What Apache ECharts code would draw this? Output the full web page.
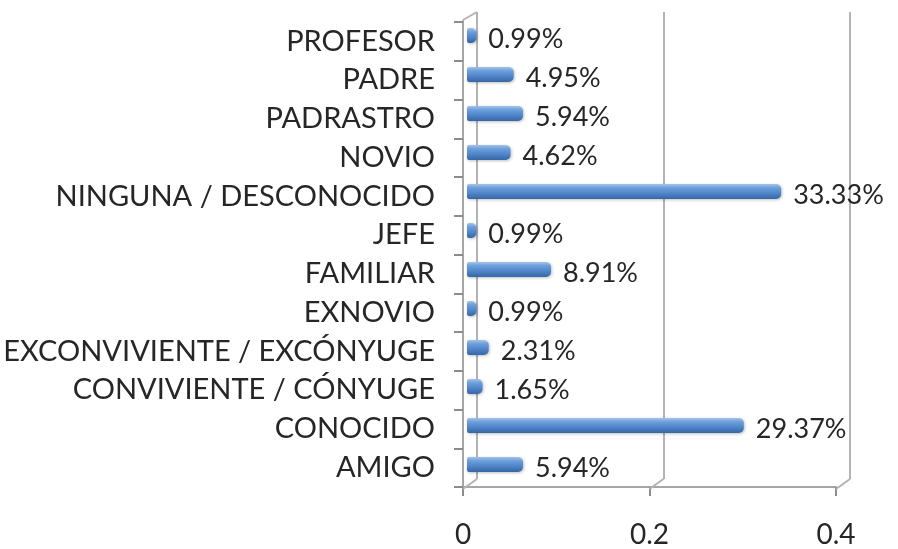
<!DOCTYPE html>
<html><head><meta charset="utf-8">
<script src="https://cdn.jsdelivr.net/npm/echarts@6/dist/echarts.min.js"></script>
<style>html,body{margin:0;padding:0;background:#fff}#c{width:898px;height:549px}</style>
</head><body><div id="c"></div>
<script>
const categories = ['AMIGO','CONOCIDO','CONVIVIENTE / CÓNYUGE','EXCONVIVIENTE / EXCÓNYUGE','EXNOVIO','FAMILIAR','JEFE','NINGUNA / DESCONOCIDO','NOVIO','PADRASTRO','PADRE','PROFESOR'];
const values = [0.0594,0.2937,0.0165,0.0231,0.0099,0.0891,0.0099,0.3333,0.0462,0.0594,0.0495,0.0099];
const axisMin = 0, axisMax = 0.4, axisStep = 0.2;
const tickValues = [0, 0.2, 0.4];

const FONT = 'Lato';
const TXT = '#262626';
const GRID_C = '#B3B3B3';

const backGrid  = {left:477, top:12, width:373, height:467};
const frontGrid = {left:463, top:22, width:373, height:467};
const barGrid   = {left:467, top:16, width:377, height:468};

const chart = echarts.init(document.getElementById('c'), null, {renderer:'canvas'});

const valAxis = (gi, extra) => Object.assign({
  type:'value', gridIndex:gi, min:axisMin, max:axisMax, interval:axisStep,
  axisLine:{show:false}, axisTick:{show:false}, axisLabel:{show:false}, splitLine:{show:false}
}, extra);
const catAxis = (gi, extra) => Object.assign({
  type:'category', gridIndex:gi, data:categories,
  axisLine:{show:false}, axisTick:{show:false}, axisLabel:{show:false}, splitLine:{show:false}
}, extra);

chart.setOption({
  animation:false,
  backgroundColor:'#ffffff',
  grid:[
    Object.assign({containLabel:false}, backGrid),
    Object.assign({containLabel:false}, frontGrid),
    Object.assign({containLabel:false}, barGrid)
  ],
  xAxis:[
    valAxis(0, {splitLine:{show:true, lineStyle:{color:GRID_C, width:2}}}),
    valAxis(1, {
      axisLine:{show:true, onZero:false, lineStyle:{color:'#A6A6A6', width:2}},
      axisTick:{show:true, length:9, lineStyle:{color:'#8C8C8C', width:2}},
      axisLabel:{show:true, margin:34, fontFamily:FONT, fontSize:28, color:TXT,
        formatter: v => String(+v.toFixed(1))}
    }),
    valAxis(2)
  ],
  yAxis:[
    catAxis(0),
    catAxis(1, {
      axisLine:{show:true, onZero:false, lineStyle:{color:'#A6A6A6', width:2}},
      axisTick:{show:true, length:9, lineStyle:{color:'#8C8C8C', width:2}},
      axisLabel:{show:true, margin:28, fontFamily:FONT, fontSize:29, color:TXT}
    }),
    catAxis(2)
  ],
  series:[{
    type:'bar', xAxisIndex:2, yAxisIndex:2, data:values, barWidth:15,
    itemStyle:{
      borderRadius:[2,5,5,2],
      color:new echarts.graphic.LinearGradient(0,0,0,1,[
        {offset:0, color:'#A4C3EA'},
        {offset:0.25, color:'#6E9FDA'},
        {offset:0.6, color:'#5086CB'},
        {offset:1, color:'#3766A3'}
      ]),
      shadowBlur:3, shadowColor:'rgba(0,0,0,0.25)', shadowOffsetY:1, shadowOffsetX:1
    },
    label:{show:true, position:'right', distance:12, offset:[0,4],
      fontFamily:FONT, fontSize:27, color:TXT,
      formatter: p => (p.value*100).toFixed(2) + '%'}
  }]
});

// 3D wall connectors derived from the grids' own scales
function addConnectors(){
  const lines = [];
  const backBottom = backGrid.top + backGrid.height;
  const frontBottom = frontGrid.top + frontGrid.height;
  tickValues.forEach(v => {
    const bx = chart.convertToPixel({xAxisIndex:0}, v);
    const fx = chart.convertToPixel({xAxisIndex:1}, v);
    lines.push({type:'line', shape:{x1:bx, y1:backBottom, x2:fx, y2:frontBottom},
      style:{stroke:GRID_C, lineWidth:2}, z:1});
  });
  const bx0 = chart.convertToPixel({xAxisIndex:0}, axisMin);
  const fx0 = chart.convertToPixel({xAxisIndex:1}, axisMin);
  lines.push({type:'line', shape:{x1:fx0, y1:frontGrid.top-2, x2:bx0, y2:backGrid.top},
    style:{stroke:GRID_C, lineWidth:2}, z:1});
  lines.push({type:'line', shape:{x1:fx0, y1:frontGrid.top-2, x2:fx0, y2:frontGrid.top},
    style:{stroke:'#A6A6A6', lineWidth:2}, z:1});
  chart.setOption({graphic:lines});
}
addConnectors();
</script></body></html>
